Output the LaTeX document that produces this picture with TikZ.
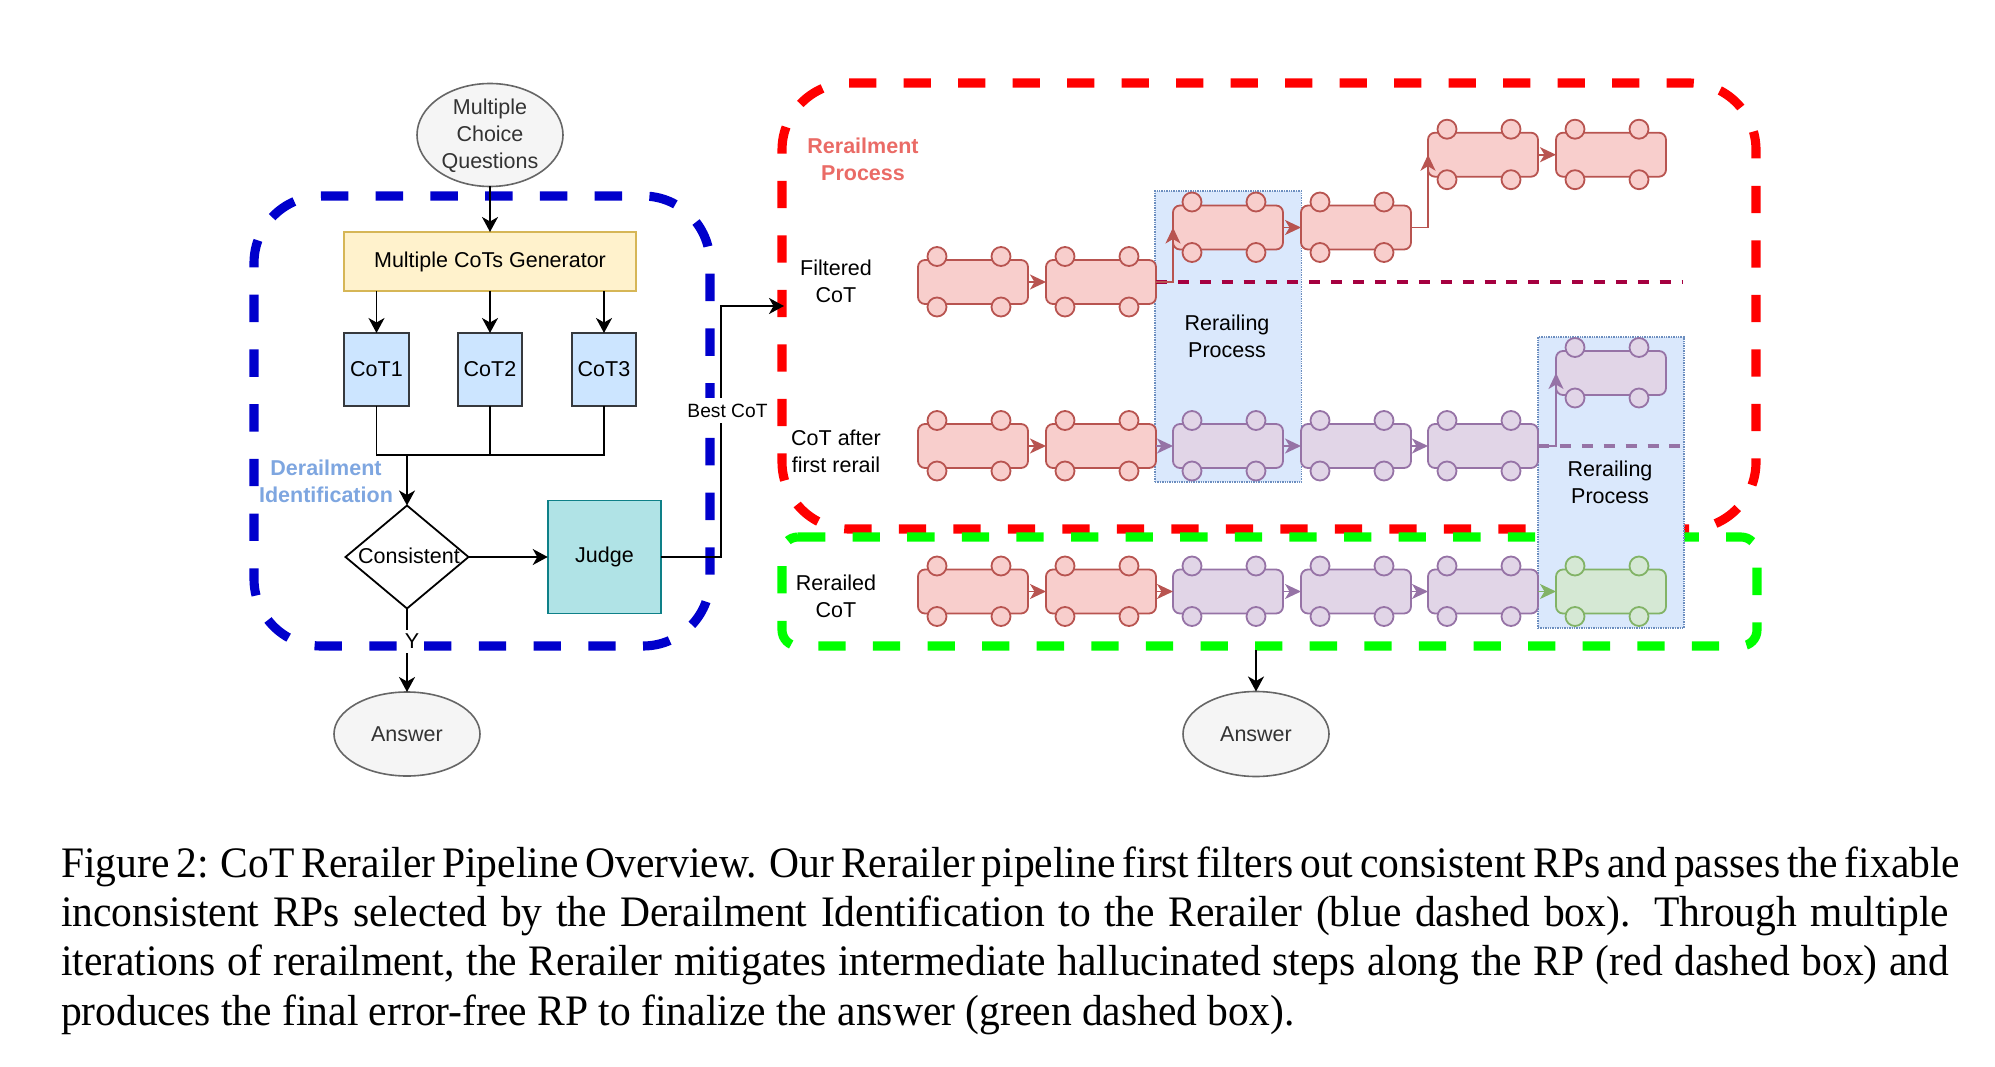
\documentclass[tikz,border=0pt]{standalone}
\usepackage{fontspec}
\setmainfont{Liberation Sans}
\newfontfamily\capfont[FakeStretch=0.955]{Liberation Serif}
\usetikzlibrary{arrows.meta,shapes.geometric,calc}
\definecolor{redcar}{HTML}{F8CECC}\definecolor{redline}{HTML}{B85450}
\definecolor{purcar}{HTML}{E1D5E7}\definecolor{purline}{HTML}{9673A6}
\definecolor{grncar}{HTML}{D5E8D4}\definecolor{grnline}{HTML}{82B366}
\definecolor{blupanel}{HTML}{DAE8FC}\definecolor{blustroke}{HTML}{6C8EBF}
\definecolor{crim}{HTML}{A50040}\definecolor{derail}{HTML}{7EA6E0}\definecolor{rerail}{HTML}{EA6B66}
\definecolor{frameblue}{HTML}{0000CC}\definecolor{framegreen}{HTML}{00FF00}\definecolor{framered}{HTML}{FF0000}
\definecolor{genfill}{HTML}{FFF2CC}\definecolor{genline}{HTML}{D6B656}
\definecolor{cotfill}{HTML}{CCE5FF}\definecolor{cotline}{HTML}{36393D}
\definecolor{judgefill}{HTML}{B0E3E6}\definecolor{judgeline}{HTML}{0E8088}
\definecolor{ovalfill}{HTML}{F5F5F5}\definecolor{ovalline}{HTML}{666666}\definecolor{ovaltext}{HTML}{333333}
\tikzset{
  x=1pt,y=-1pt,
  every node/.style={font=\fontsize{21.5}{27}\selectfont,inner sep=0pt,outer sep=0pt,align=center},
  bigdash/.style 2 args={line width=9.1pt,dash pattern=on #2 off #2,rounded corners=#1},
  carbody/.style={draw,rounded corners=7pt,minimum width=110pt,minimum height=44pt,line width=1.8pt},
  wheel/.style={draw,circle,minimum size=19pt,line width=1.8pt},
  redstyle/.style={draw=redline,fill=redcar},
  purstyle/.style={draw=purline,fill=purcar},
  grnstyle/.style={draw=grnline,fill=grncar},
  flow/.style={line width=1.9pt,-{Stealth[length=15pt,width=16pt,inset=4.5pt]}},
  plainline/.style={line width=1.9pt},
  link/.style={line width=1.9pt,draw=#1,-{Stealth[length=16pt,width=15pt,inset=4.5pt]}},
  oval/.style={draw=ovalline,fill=ovalfill,ellipse,line width=1.6pt,text=ovaltext},
  cotbox/.style={draw=cotline,fill=cotfill,minimum width=64.5pt,minimum height=73pt,line width=1.7pt},
  panel/.style={draw=blustroke,fill=blupanel,densely dotted,line width=1.4pt},
  capline/.style={anchor=base west,font=\capfont\fontsize{43.5}{50}\selectfont,align=left},
  note/.style={font=\fontsize{21.5}{27}\selectfont\bfseries},
}
\newcommand{\traincar}[4]{%
  \node[carbody,#4] (#1) at (#2+55,#3) {};
  \node[wheel,#4] (#1a) at (#2+19,#3-25.5) {};
  \node[wheel,#4] (#1b) at (#2+83,#3-25.5) {};
  \node[wheel,#4] (#1c) at (#2+19,#3+25) {};
  \node[wheel,#4] (#1d) at (#2+83,#3+25) {};
}
\begin{document}
\begin{tikzpicture}
\useasboundingbox (0,0) rectangle (1995,1067);
% dashed frames
\draw[frameblue,bigdash={67pt}{27.37pt}] (321,196) -- (710,196) -- (710,646) -- (254,646) -- (254,196) -- (321,196);
\draw[framered,bigdash={67pt}{27.25pt}] (849,83) -- (1756,83) -- (1756,529) -- (782,529) -- (782,83) -- (849,83);
\draw[framegreen,bigdash={16pt}{27.3pt}] (798,537) -- (1757,537) -- (1757,646) -- (782,646) -- (782,537) -- (798,537);
% panels
\node[panel,minimum width=146.4pt,minimum height=291pt] (panelA) at (1228.2,336.5) {};
\node[panel,minimum width=146pt,minimum height=291pt] (panelB) at (1611,482.5) {};
\node (procA) at (1227,336.5) {Rerailing\\Process};
\node (procB) at (1610,482) {Rerailing\\Process};
% left flow
\node[oval,minimum width=146pt,minimum height=103pt,label={[text=ovaltext,align=center,yshift=-0.5pt]center:Multiple\\Choice\\Questions}] (mcq) at (490,135) {};
\node[draw=genline,fill=genfill,minimum width=292pt,minimum height=59pt,line width=2pt] (gen) at (490,261.5) {Multiple CoTs Generator};
\node[cotbox] (cot1) at (376.5,369.5) {CoT1};
\node[cotbox] (cot2) at (490,369.5) {CoT2};
\node[cotbox] (cot3) at (604,369.5) {CoT3};
\node[draw,diamond,aspect=1.2,line width=1.8pt,minimum width=123pt,minimum height=103pt,label={[xshift=2pt,yshift=1.5pt]center:Consistent}] (dia) at (407,557) {};
\node[draw=judgeline,fill=judgefill,minimum width=113.5pt,minimum height=113pt,line width=1.8pt] (judge) at (604.5,557) {Judge};
\node[oval,minimum width=146pt,minimum height=84pt] (ans1) at (407,734) {Answer};
\node[oval,minimum width=146pt,minimum height=85pt] (ans2) at (1256,734) {Answer};
\coordinate (merge) at (407,455);
\coordinate (turn) at (721,306);
\coordinate (redin) at (784,306);
\coordinate (green) at (1256,650);
\draw[flow] (mcq.south) -- (gen.north);
\draw[flow] (gen.south -| cot1.north) -- (cot1.north);
\draw[flow] (gen.south -| cot2.north) -- (cot2.north);
\draw[flow] (gen.south -| cot3.north) -- (cot3.north);
\draw[plainline] (cot1.south) |- (merge);
\draw[plainline] (cot2.south) -- (cot2.south |- merge);
\draw[plainline] (cot3.south) |- (merge);
\draw[flow] (merge) -- (dia.north);
\draw[flow] (dia.east) -- (judge.west);
\draw[flow] (dia.south) -- (ans1.north);
\draw[flow] (judge.east) -| (turn) -- (redin);
\draw[flow] (green) -- (ans2.north);
\node[fill=white,minimum height=25pt,font=\fontsize{19.2}{24}\selectfont] (best) at (727.5,410.5) {Best CoT};
\node[fill=white,minimum height=23pt,minimum width=14pt] (yes) at (412,641) {Y};
\node[note,text=derail] (derailment) at (326,481.5) {Derailment\\Identification};
\node[note,text=rerail] (rerailment) at (863,159.5) {Rerailment\\Process};
% row labels
\node (lab1) at (836,281.5) {Filtered\\CoT};
\node (lab2) at (836,451.5) {CoT after\\first rerail};
\node (lab3) at (836,596.5) {Rerailed\\CoT};
% dashed tracks
\coordinate (crimend) at (1683,282);
\coordinate (purend) at (1680,446);
% cars
\traincar{ra}{918}{282}{redstyle}
\traincar{rb}{1046}{282}{redstyle}
\traincar{rc}{1173}{227.5}{redstyle}
\traincar{rd}{1301}{227.5}{redstyle}
\traincar{re}{1428}{154.7}{redstyle}
\traincar{rf}{1556}{154.7}{redstyle}
\traincar{pa}{918}{446}{redstyle}
\traincar{pb}{1046}{446}{redstyle}
\traincar{pc}{1173}{446}{purstyle}
\traincar{pd}{1301}{446}{purstyle}
\traincar{pe}{1428}{446}{purstyle}
\traincar{pf}{1556}{373}{purstyle}
\traincar{ga}{918}{591.5}{redstyle}
\traincar{gb}{1046}{591.5}{redstyle}
\traincar{gc}{1173}{591.5}{purstyle}
\traincar{gd}{1301}{591.5}{purstyle}
\traincar{ge}{1428}{591.5}{purstyle}
\traincar{gf}{1556}{591.5}{grnstyle}
% tracks and links
\draw[crim,line width=3.67pt,dash pattern=on 11pt off 10.9pt] (rb.east) -- (crimend);
\draw[purline,line width=3.67pt,dash pattern=on 11pt off 10.9pt] (pe.east) -- (purend);
\draw[link=redline] (ra.east) -- (rb.west);
\draw[link=redline] (rb.east) -| (rc.west);
\draw[link=redline] (rc.east) -- (rd.west);
\draw[link=redline] (rd.east) -| (re.west);
\draw[link=redline] (re.east) -- (rf.west);
\draw[link=redline] (pa.east) -- (pb.west);
\draw[link=purline] (pb.east) -- (pc.west);
\draw[link=purline] (pc.east) -- (pd.west);
\draw[link=purline] (pd.east) -- (pe.west);
\draw[link=purline] (pe.east) -| (pf.west);
\draw[link=redline] (ga.east) -- (gb.west);
\draw[link=redline] (gb.east) -- (gc.west);
\draw[link=purline] (gc.east) -- (gd.west);
\draw[link=purline] (gd.east) -- (ge.west);
\draw[link=grnline] (ge.east) -- (gf.west);
% caption
\node[capline] (cap1) at (61,877.7) {\makebox[1888pt][s]{Figure 2: CoT Rerailer Pipeline Overview. Our Rerailer pipeline first filters out consistent RPs and passes the fixable}};
\node[capline] (cap2) at (61,926.7) {\makebox[1888pt][s]{inconsistent RPs selected by the Derailment Identification to the Rerailer (blue dashed box). Through multiple}};
\node[capline] (cap3) at (61,975.7) {\makebox[1888pt][s]{iterations of rerailment, the Rerailer mitigates intermediate hallucinated steps along the RP (red dashed box) and}};
\node[capline] (cap4) at (61,1025) {produces the final error-free RP to finalize the answer (green dashed box).};
\end{tikzpicture}
\end{document}
